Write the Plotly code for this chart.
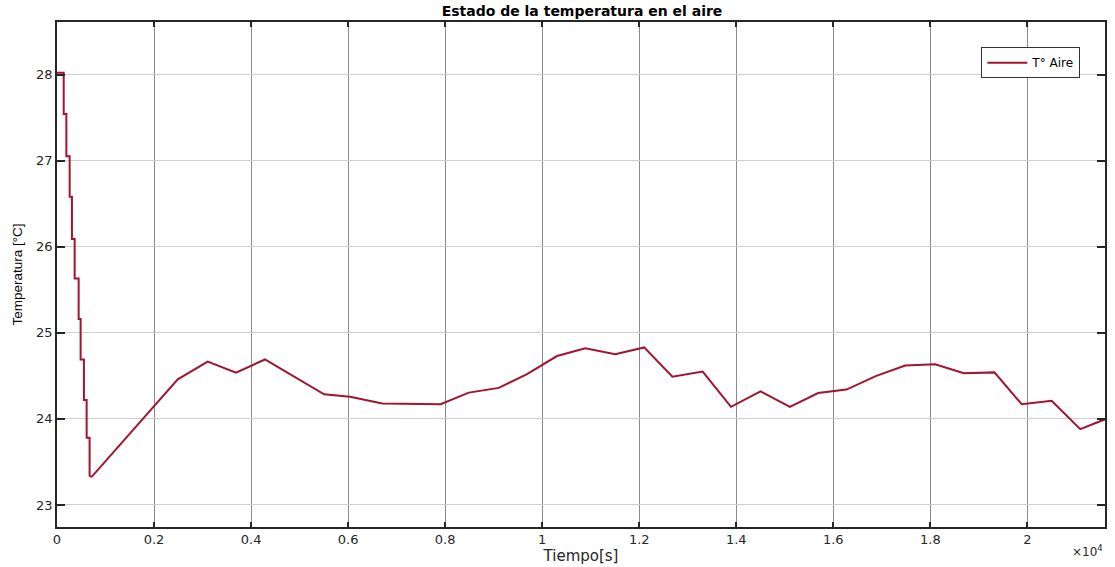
import plotly.graph_objects as go

# Initial stepped cool-down: step times [s] and held temperatures [°C]
step_time = [0, 138, 193, 261, 308, 364, 446, 487, 555, 611, 672]
step_temp = [28.02, 27.54, 27.05, 26.58, 26.09, 25.63, 25.16, 24.69, 24.22, 23.78, 23.33]

# Remaining air temperature trajectory: breakpoint times [s] and temperatures [°C]
time_s = [672, 720, 2489, 3106, 3690, 4286, 5506, 6040, 6705, 7906, 8488, 9105,
          9688, 10305, 10889, 11506, 12102, 12684, 13308, 13891, 14500, 15105,
          15687, 16270, 16887, 17483, 18100, 18690, 19322, 19883, 20500, 21090, 21600]
temp_c = [23.33, 23.33, 24.46, 24.665, 24.537, 24.69, 24.286, 24.258, 24.18, 24.17,
          24.305, 24.36, 24.52, 24.73, 24.82, 24.75, 24.83, 24.49, 24.55, 24.14,
          24.32, 24.14, 24.30, 24.34, 24.50, 24.62, 24.635, 24.53, 24.54, 24.17,
          24.21, 23.88, 23.995]

x_tick_vals = [0, 2000, 4000, 6000, 8000, 10000, 12000, 14000, 16000, 18000, 20000]
x_tick_text = ["0", "0.2", "0.4", "0.6", "0.8", "1", "1.2", "1.4", "1.6", "1.8", "2"]
y_tick_vals = [23, 24, 25, 26, 27, 28]

LINE_COLOR = "#A2142F"
AXIS_COLOR = "#262626"
FONT = "DejaVu Sans, Arial, sans-serif"
NARROW = "Liberation Sans Narrow, Arial Narrow, sans-serif"

fig = go.Figure()
fig.add_trace(go.Scatter(
    x=step_time, y=step_temp, mode="lines", line_shape="hv",
    line=dict(color=LINE_COLOR, width=2),
    legendgroup="aire", showlegend=False, hoverinfo="skip",
))
fig.add_trace(go.Scatter(
    x=time_s, y=temp_c, mode="lines", name="T° Aire",
    line=dict(color=LINE_COLOR, width=2), legendgroup="aire",
))

fig.update_layout(
    width=1115, height=567,
    margin=dict(l=57, r=8, t=22, b=40),
    paper_bgcolor="white", plot_bgcolor="white",
    font=dict(family=FONT, size=12, color=AXIS_COLOR),
    title=dict(text="<b>Estado de la temperatura en el aire</b>",
               x=(57 + 1107) / 2 / 1115, xanchor="center",
               y=1 - 11 / 567, yanchor="middle",
               font=dict(family=FONT, size=14, color="#000000")),
    showlegend=True,
    legend=dict(x=0.882, xanchor="left", y=0.95, yanchor="top",
                bgcolor="white", bordercolor="#333333", borderwidth=1,
                font=dict(family=FONT, size=12, color="#000000"),
                itemwidth=40, tracegroupgap=0),
)

fig.update_xaxes(
    range=[0, 21600], tickvals=x_tick_vals, ticktext=x_tick_text,
    showgrid=True, gridcolor="#8a8a8a", gridwidth=1, zeroline=False,
    showline=True, linecolor=AXIS_COLOR, linewidth=1.5, mirror="allticks",
    ticks="inside", ticklen=5, tickcolor=AXIS_COLOR, tickwidth=1.5,
    tickfont=dict(family=FONT, size=13, color=AXIS_COLOR),
    title=dict(text="Tiempo[s]", font=dict(family=FONT, size=15, color=AXIS_COLOR), standoff=0),
)
fig.update_yaxes(
    range=[22.744, 28.61], tickvals=y_tick_vals,
    showgrid=True, gridcolor="#cfcfcf", gridwidth=1, zeroline=False,
    showline=True, linecolor=AXIS_COLOR, linewidth=1.5, mirror="allticks",
    ticks="inside", ticklen=8, tickcolor=AXIS_COLOR, tickwidth=1.5,
    tickfont=dict(family=FONT, size=13, color=AXIS_COLOR),
    title=dict(text="Temperatura [°C]", font=dict(family=NARROW, size=13.5, color="#000000"), standoff=10),
)

# Axis exponent marker
fig.add_annotation(
    text="×10<sup>4</sup>", xref="paper", yref="paper",
    x=1.0, y=-0.048, xanchor="right", yanchor="middle", showarrow=False,
    font=dict(family=FONT, size=12, color=AXIS_COLOR),
)

fig.write_html("out.html")
